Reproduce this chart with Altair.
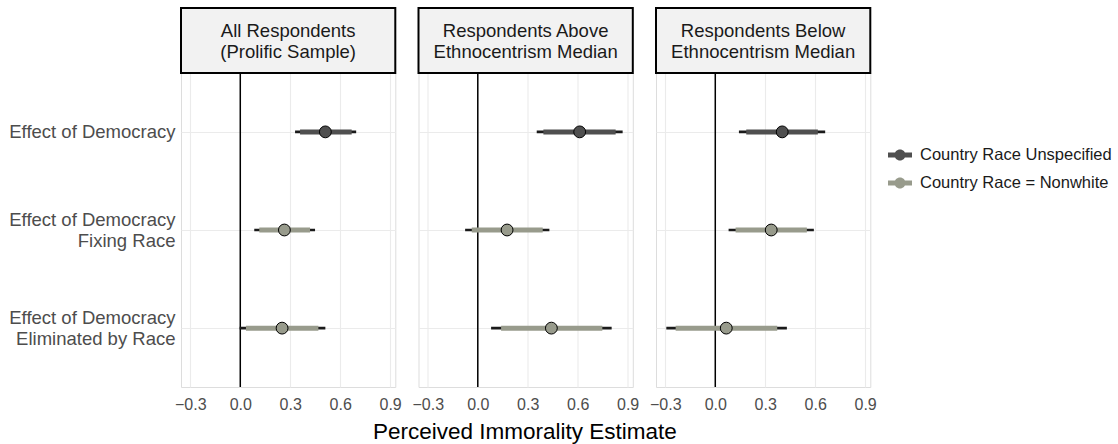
import altair as alt
import pandas as pd

# ---- data ----
panels = [
    "All Respondents\n(Prolific Sample)",
    "Respondents Above\nEthnocentrism Median",
    "Respondents Below\nEthnocentrism Median",
]
effects = [
    "Effect of Democracy",
    "Effect of Democracy\nFixing Race",
    "Effect of Democracy\nEliminated by Race",
]
series_names = ["Country Race Unspecified", "Country Race = Nonwhite"]
row_series = [0, 1, 1]

est = [[0.511, 0.265, 0.251], [0.612, 0.176, 0.442], [0.402, 0.336, 0.066]]
lo90 = [[0.359, 0.114, 0.034], [0.394, -0.036, 0.140], [0.186, 0.122, -0.238]]
hi90 = [[0.669, 0.419, 0.469], [0.828, 0.390, 0.748], [0.616, 0.550, 0.372]]
lo95 = [[0.329, 0.084, -0.004], [0.354, -0.076, 0.080], [0.142, 0.080, -0.294]]
hi95 = [[0.696, 0.449, 0.511], [0.870, 0.430, 0.804], [0.660, 0.592, 0.430]]

x_ticks = [-0.3, 0.0, 0.3, 0.6, 0.9]
x_domain = [-0.356, 0.931]
colors = ["#4f4f4f", "#989b8c"]

rows = []
for p, pname in enumerate(panels):
    for r, ename in enumerate(effects):
        rows.append(dict(
            panel=pname, effect=ename, series=series_names[row_series[r]],
            est=est[p][r], lo90=lo90[p][r], hi90=hi90[p][r],
            lo95=lo95[p][r], hi95=hi95[p][r], first=(r == 0),
        ))
df = pd.DataFrame(rows)

FONT = "Liberation Sans"
W, H = 214.3, 314
SP = 22.5

xscale = alt.Scale(domain=x_domain, nice=False, zero=False)
xaxis = alt.Axis(values=x_ticks, format=".1f", title=None, domain=False, ticks=False,
                 grid=True, gridColor="#ebebeb", gridWidth=1.1, labelFontSize=16,
                 labelColor="#4d4d4d", labelPadding=9, labelFlush=False, labelFont=FONT)
yenc = alt.Y("effect:N", sort=effects, scale=alt.Scale(type="point", padding=0.6),
             axis=alt.Axis(title=None, domain=False, ticks=False, grid=True,
                           gridColor="#ebebeb", gridWidth=1.1, labelFontSize=18.5,
                           labelColor="#4d4d4d", labelPadding=6, labelFont=FONT,
                           labelLineHeight=21.5,
                           labelOffset={"condition": {"test": "indexof(datum.value, '\\n') >= 0",
                                                      "value": -10.75}, "value": 0},
                           labelExpr="split(datum.label, '\\n')"))
cscale = alt.Scale(domain=series_names, range=colors)

sym = ("M-1,-0.21L1,-0.21L1,0.21L-1,0.21Z "
       "M-0.46,0A0.46,0.46,0,1,1,0.46,0A0.46,0.46,0,1,1,-0.46,0Z")

base = alt.Chart()

zero = base.mark_rule(color="black", strokeWidth=1.5).encode(
    x=alt.datum(0, scale=xscale, axis=xaxis)
).transform_filter("datum.first")

thin = base.mark_rule(color="#1a1a1a", strokeWidth=2.7).encode(
    x=alt.X("lo95:Q", scale=xscale, axis=xaxis), x2="hi95:Q", y=yenc
)
thick = base.mark_rule(strokeWidth=5).encode(
    x=alt.X("lo90:Q", scale=xscale, axis=xaxis), x2="hi90:Q", y=yenc,
    color=alt.condition(f"datum.series == '{series_names[0]}'",
                        alt.value(colors[0]), alt.value(colors[1])),
)
pts = base.mark_circle(size=140, stroke="black", strokeWidth=1, opacity=1).encode(
    x=alt.X("est:Q", scale=xscale, axis=xaxis), y=yenc,
    fill=alt.Fill("series:N", scale=cscale, legend=alt.Legend(
        title=None, orient="none", legendX=707, legendY=70, symbolType=sym,
        symbolSize=576, symbolStrokeWidth=0, symbolOpacity=1, labelFontSize=16.5,
        labelColor="#1a1a1a", labelOffset=8, rowPadding=7, labelFont=FONT,
        labelLimit=400)),
)

strip_box = base.mark_rect(fill="#f2f2f2", stroke="black", strokeWidth=2).encode(
    x=alt.value(0), x2=alt.value(W), y=alt.value(-65), y2=alt.value(0)
).transform_filter("datum.first")

strip_txt = base.mark_text(fontSize=18.5, lineBreak="\n", lineHeight=21, color="#1a1a1a",
                           baseline="middle", align="center", font=FONT).encode(
    x=alt.value(W / 2), y=alt.value(-42.5), text="panel:N"
).transform_filter("datum.first")

layered = alt.layer(zero, thin, thick, pts, strip_box, strip_txt).properties(width=W, height=H)

chart = layered.facet(
    column=alt.Column("panel:N", sort=panels, header=alt.Header(title=None, labels=False)),
    data=df, spacing=SP,
).properties(
    bounds="flush",
    padding={"left": 8, "top": 6, "right": 0, "bottom": 4},
    title=alt.TitleParams("Perceived Immorality Estimate", orient="bottom", anchor="middle",
                          frame="group", fontSize=22.5, fontWeight="normal", color="#000000",
                          font=FONT, offset=9, dx=(3 * W + 2 * SP) / 2),
).configure_view(stroke=None).configure(background="white", font=FONT)

chart.save("out.html", embed_options={"renderer": "svg", "actions": False})
